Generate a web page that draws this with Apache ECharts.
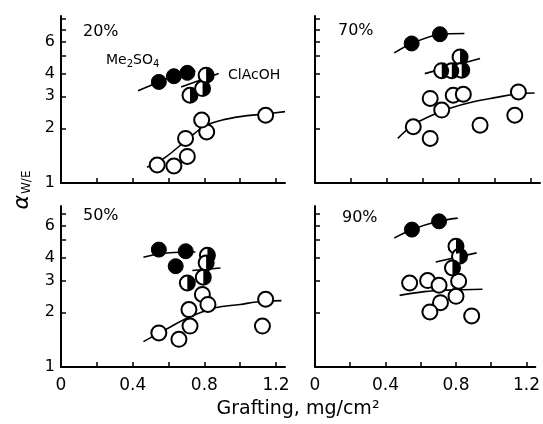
<!DOCTYPE html>
<html>
<head>
<meta charset="utf-8">
<script src="https://cdn.jsdelivr.net/npm/echarts@6/dist/echarts.min.js"></script>
<style>
  html, body { margin: 0; padding: 0; background: #fff; }
  #chart { width: 543px; height: 424px; }
</style>
</head>
<body>
<div id="chart"></div>
<script>
// Axis ticks and labels
const xTickValues = [0.2, 0.4, 0.6, 0.8, 1.0, 1.2];
const xLabelValues = [0, 0.4, 0.8, 1.2];
const yTickValues = [2, 3, 4, 5, 6, 7, 8];
const yLabelValues = [1, 2, 3, 4, 6];
const panelNames = ['20%', '70%', '50%', '90%'];

// 20 % panel: [grafting, q]
const me2so4_20 = [[0.546, 3.6], [0.63, 3.87], [0.705, 4.04]];
const clacoh_20 = [[0.72, 3.04], [0.79, 3.31], [0.81, 3.92]];
const plain_20 = [[0.537, 1.256], [0.63, 1.24], [0.705, 1.4], [0.695, 1.76], [0.813, 1.91], [0.785, 2.22], [1.142, 2.36]];
const me2so4Fit_20 = [[0.43, 3.22], [0.546, 3.6], [0.63, 3.87], [0.705, 4.04], [0.75, 4.12]];
const clacohFit_20 = [[0.67, 3.38], [0.88, 4.0]];
const plainFit_20 = [[0.48, 1.22], [0.58, 1.38], [0.7, 1.72], [0.8, 2.05], [0.9, 2.22], [1.0, 2.32], [1.14, 2.4], [1.25, 2.47]];

// 70 % panel
const me2so4_70 = [[0.537, 5.86], [0.694, 6.59]];
const clacoh_70 = [[0.704, 4.15], [0.76, 4.15], [0.806, 4.94], [0.815, 4.18]];
const plain_70 = [[0.64, 2.92], [0.768, 3.04], [0.824, 3.08], [0.704, 2.52], [0.546, 2.04], [0.64, 1.76], [0.917, 2.08], [1.11, 2.36], [1.13, 3.17]];
const me2so4Fit_70 = [[0.44, 5.2], [0.537, 5.86], [0.694, 6.59], [0.83, 6.65]];
const clacohFit_70 = [[0.61, 4.0], [0.917, 4.84]];
const plainFit_70 = [[0.46, 1.76], [0.55, 2.1], [0.65, 2.36], [0.75, 2.58], [0.88, 2.8], [1.0, 2.95], [1.13, 3.1], [1.22, 3.13]];

// 50 % panel
const me2so4_50 = [[0.546, 4.43], [0.696, 4.34], [0.64, 3.59]];
const clacoh_50 = [[0.817, 4.12], [0.81, 3.74], [0.794, 3.12], [0.705, 2.9]];
const plain_50 = [[0.789, 2.51], [0.82, 2.21], [0.714, 2.07], [0.72, 1.68], [0.546, 1.54], [0.658, 1.42], [1.142, 2.36], [1.124, 1.68]];
const me2so4Fit_50 = [[0.46, 4.02], [0.55, 4.2], [0.7, 4.3], [0.75, 4.3]];
const clacohFit_50 = [[0.733, 3.4], [0.89, 3.51]];
const plainFit_50 = [[0.46, 1.38], [0.6, 1.64], [0.7, 1.85], [0.86, 2.12], [1.0, 2.21], [1.09, 2.28], [1.23, 2.32]];

// 90 % panel
const me2so4_90 = [[0.55, 5.71], [0.704, 6.34]];
const clacoh_90 = [[0.8, 4.62], [0.82, 4.07], [0.78, 3.51]];
const plain_90 = [[0.537, 2.9], [0.639, 2.99], [0.704, 2.82], [0.815, 2.97], [0.8, 2.45], [0.712, 2.26], [0.652, 2.01], [0.889, 1.91]];
const me2so4Fit_90 = [[0.45, 5.13], [0.55, 5.71], [0.7, 6.34], [0.81, 6.6]];
const clacohFit_90 = [[0.685, 3.79], [0.917, 4.25]];
const plainFit_90 = [[0.48, 2.48], [0.62, 2.6], [0.75, 2.65], [0.95, 2.68]];

const panelData = [
  { me: me2so4_20, cl: clacoh_20, pl: plain_20, meFit: me2so4Fit_20, clFit: clacohFit_20, plFit: plainFit_20 },
  { me: me2so4_70, cl: clacoh_70, pl: plain_70, meFit: me2so4Fit_70, clFit: clacohFit_70, plFit: plainFit_70 },
  { me: me2so4_50, cl: clacoh_50, pl: plain_50, meFit: me2so4Fit_50, clFit: clacohFit_50, plFit: plainFit_50 },
  { me: me2so4_90, cl: clacoh_90, pl: plain_90, meFit: me2so4Fit_90, clFit: clacohFit_90, plFit: plainFit_90 }
];

const FONT = 'DejaVu Sans';
const INK = '#000';
const DOT = 15;

const grids = [
  { left: 61, top: 16, width: 224, height: 167 },
  { left: 315, top: 16, width: 225, height: 167 },
  { left: 61, top: 206, width: 224, height: 161 },
  { left: 315, top: 206, width: 225, height: 161 }
];
const yMax = [8.3, 8.3, 7.7, 7.7];

const xAxes = grids.map((g, i) => ({
  type: 'value', gridIndex: i, min: 0, max: 1.25,
  axisLine: { show: true, lineStyle: { color: INK, width: 2 } },
  axisTick: { show: true, inside: true, length: 5, customValues: xTickValues, lineStyle: { color: INK, width: 1.5 } },
  axisLabel: {
    show: i >= 2, customValues: xLabelValues, margin: 10,
    color: INK, fontFamily: FONT, fontSize: 17,
    formatter: v => (v === 0 ? '0' : v.toFixed(1))
  },
  splitLine: { show: false }
}));

const yAxes = grids.map((g, i) => ({
  type: 'log', logBase: 10, gridIndex: i, min: 1, max: yMax[i],
  axisLine: { show: true, lineStyle: { color: INK, width: 2 } },
  axisTick: { show: true, inside: true, length: 5, customValues: yTickValues, lineStyle: { color: INK, width: 1.5 } },
  axisLabel: {
    show: i % 2 === 0, customValues: yLabelValues, margin: 6,
    color: INK, fontFamily: FONT, fontSize: 16,
    formatter: v => String(Math.round(v))
  },
  splitLine: { show: false },
  minorTick: { show: false },
  minorSplitLine: { show: false }
}));

const series = [];
panelData.forEach((p, i) => {
  const lineBase = { type: 'line', xAxisIndex: i, yAxisIndex: i, symbol: 'none', z: 1, silent: true, animation: false };
  series.push(Object.assign({}, lineBase, { data: p.meFit, smooth: 0.3, lineStyle: { color: INK, width: 1.6 } }));
  series.push(Object.assign({}, lineBase, { data: p.clFit, lineStyle: { color: INK, width: 1.6 } }));
  series.push(Object.assign({}, lineBase, { data: p.plFit, smooth: 0.4, lineStyle: { color: INK, width: 1.6 } }));
  const dotBase = { type: 'scatter', xAxisIndex: i, yAxisIndex: i, symbol: 'circle', symbolSize: DOT, z: 3, animation: false, silent: true };
  // untreated: open circles
  series.push(Object.assign({}, dotBase, { data: p.pl, itemStyle: { color: '#fff', borderColor: INK, borderWidth: 2, opacity: 1 } }));
  // ClAcOH: circle with the right half filled
  series.push(Object.assign({}, dotBase, { data: p.cl, z: 4, itemStyle: { color: '#fff', borderColor: INK, borderWidth: 2, opacity: 1 } }));
  series.push(Object.assign({}, dotBase, {
    data: p.cl, z: 5,
    symbol: 'path://M0,0 A10,10 0 0,1 0,20 Z',
    symbolSize: [DOT / 2, DOT], symbolOffset: [DOT / 4, 0],
    itemStyle: { color: INK, borderWidth: 0, opacity: 1 }
  }));
  // Me2SO4: filled circles
  series.push(Object.assign({}, dotBase, { data: p.me, z: 6, itemStyle: { color: INK, borderColor: INK, borderWidth: 1, opacity: 1 } }));
});

const panelTitlePos = [[83, 32], [338, 31], [83, 216], [342, 218]];
const graphics = panelNames.map((name, i) => ({
  type: 'text', x: panelTitlePos[i][0], y: panelTitlePos[i][1],
  style: { text: name, fill: INK, font: '16px "' + FONT + '"', verticalAlign: 'middle', align: 'left' }
}));
graphics.push({
  type: 'text', x: 106, y: 60,
  style: {
    text: 'Me{s|2}SO{s|4}', fill: INK, font: '14px "' + FONT + '"', verticalAlign: 'middle', align: 'left',
    rich: { s: { fontSize: 10, fontFamily: FONT, fill: INK, padding: [9, 0, 0, 0] } }
  }
});
graphics.push({
  type: 'text', x: 228, y: 75,
  style: { text: 'ClAcOH', fill: INK, font: '14px "' + FONT + '"', verticalAlign: 'middle', align: 'left' }
});
graphics.push({
  type: 'text', x: 298, y: 409,
  style: { text: 'Grafting, mg/cm²', fill: INK, font: '19px "' + FONT + '"', verticalAlign: 'middle', align: 'center' }
});
graphics.push({
  type: 'text', x: 22, y: 190, rotation: Math.PI / 2,
  style: {
    text: '{a|α}{s|W/E}', align: 'center', verticalAlign: 'middle', fill: INK,
    rich: {
      a: { fontSize: 22, fontFamily: FONT, fontStyle: 'italic', fill: INK },
      s: { fontSize: 12, fontFamily: FONT, fill: INK, padding: [10, 0, 0, 1] }
    }
  }
});

const chart = echarts.init(document.getElementById('chart'), null, { renderer: 'canvas' });
chart.setOption({
  backgroundColor: '#fff',
  animation: false,
  grid: grids,
  xAxis: xAxes,
  yAxis: yAxes,
  series: series,
  graphic: graphics
});
</script>
</body>
</html>
